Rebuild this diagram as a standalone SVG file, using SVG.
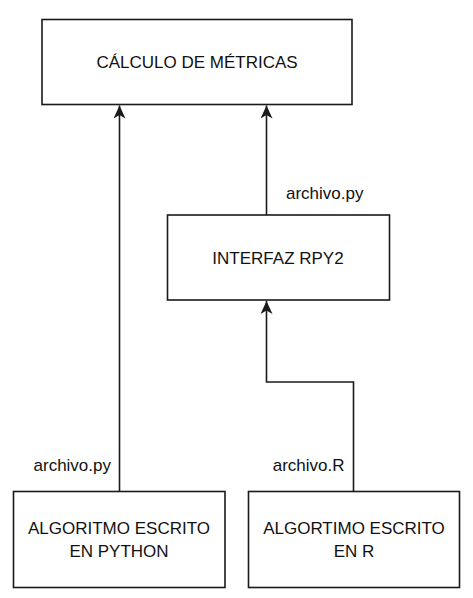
<svg xmlns="http://www.w3.org/2000/svg" width="473" height="598" viewBox="0 0 473 598">
<style>
.box{fill:#fff;stroke:#1a1a1a;stroke-width:1.6}
.t{font-family:"Liberation Sans",Arial,sans-serif;font-size:17px;fill:#111;text-anchor:middle}
.l{font-family:"Liberation Sans",Arial,sans-serif;font-size:17px;fill:#111}
.c{fill:none;stroke:#1a1a1a;stroke-width:1.6}
</style>
<defs>
<marker id="arr" markerUnits="userSpaceOnUse" viewBox="0 0 14 12" refX="13" refY="6" markerWidth="14" markerHeight="12" orient="auto">
<path d="M0,0 L13,6 L0,12 L3.5,6 Z" fill="#1a1a1a"/>
</marker>
</defs>
<rect width="473" height="598" fill="#fff"/>
<g id="connectors">
<path class="c" d="M119.5,491.5 V105.5" marker-end="url(#arr)"/>
<path class="c" d="M266.5,215 V105.5" marker-end="url(#arr)"/>
<path class="c" d="M353.5,491.5 V382 H266.5 V301" marker-end="url(#arr)"/>
<text class="l" x="286" y="199">archivo.py</text>
<text class="l" x="111" y="470.5" text-anchor="end">archivo.py</text>
<text class="l" x="344.5" y="470.5" text-anchor="end">archivo.R</text>
</g>
<g id="calculo">
<rect class="box" x="42" y="19.5" width="310" height="85"/>
<text class="t" x="197" y="68">CÁLCULO DE MÉTRICAS</text>
</g>
<g id="interfaz">
<rect class="box" x="167.5" y="215" width="222" height="85"/>
<text class="t" x="278" y="264">INTERFAZ RPY2</text>
</g>
<g id="python">
<rect class="box" x="13.5" y="491.5" width="211.5" height="96"/>
<text class="t" x="119" y="534">ALGORITMO ESCRITO</text>
<text class="t" x="119" y="557">EN PYTHON</text>
</g>
<g id="r">
<rect class="box" x="248.5" y="491.5" width="211" height="96"/>
<text class="t" x="354" y="534">ALGORTIMO ESCRITO</text>
<text class="t" x="354" y="557">EN R</text>
</g>
</svg>
